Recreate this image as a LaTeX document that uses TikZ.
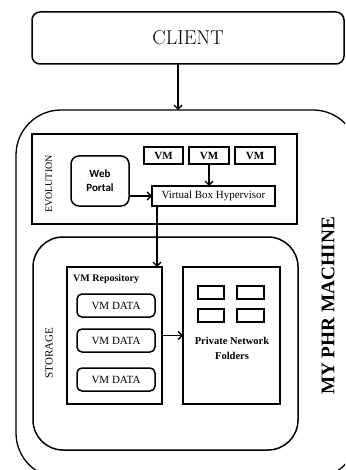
\documentclass[tikz,border=0pt]{standalone}
\usepackage{fontspec}
\newfontfamily\tms{Liberation Serif}
\newfontfamily\calfont{Carlito}
\usetikzlibrary{arrows.meta}
\newcommand\fsz[1]{\fontsize{#1}{\dimexpr #1pt*6/5\relax}\selectfont}
\begin{document}
\begin{tikzpicture}[x=1pt,y=-1pt,
  box/.style={draw,line width=1.5pt,inner sep=0pt,outer sep=0pt},
  rbox/.style={box,rounded corners=#1},
  arr/.style={line width=1.4pt,-{Straight Barb[length=4pt,width=8pt,line width=1.4pt]}},
  lbl/.style={inner sep=0pt,font=\tms\fsz{10}}]
\useasboundingbox (0,0) rectangle (345,470);
\clip (0,0) rectangle (345,470);
% client
\node[rbox=8pt,minimum width=312pt,minimum height=52pt,font=\fsz{20}] (client) at (188,38) {CLIENT};
% outer machine
\node[rbox=45pt,line width=1.3pt,minimum width=342pt,minimum height=368pt] (outer) at (187,294) {};
\draw[arr] ([xshift=-10pt]client.south) -- ([xshift=-10pt]client.south |- outer.north);
\node[lbl,rotate=90,font=\tms\bfseries\fontsize{19.3}{22}\selectfont] (mphr) at (328,306) {MY PHR MACHINE};
% evolution
\node[box,minimum width=265pt,minimum height=90pt] (evo) at (164.5,179) {};
\node[lbl,rotate=90] (evol) at (49,184) {EVOLUTION};
\node[rbox=8pt,minimum width=58pt,minimum height=50pt,align=center,font=\calfont\bfseries\fsz{11}] (web) at (100,181) {Web\\[1pt]Portal};
\node[box,minimum width=39pt,minimum height=17pt,font=\tms\bfseries\fsz{11}] (vma) at (163.5,155.5) {VM};
\node[box,minimum width=40pt,minimum height=17pt,font=\tms\bfseries\fsz{11}] (vmb) at (209,155.5) {VM};
\node[box,minimum width=40pt,minimum height=17pt,font=\tms\bfseries\fsz{11}] (vmc) at (255,155.5) {VM};
\node[box,minimum width=123pt,minimum height=20pt,font=\tms\fsz{11}] (hyp) at (213.5,196) {Virtual Box Hypervisor};
\draw[arr] (vmb.south) -- (vmb.south |- hyp.north);
\draw[arr] (hyp.west -| web.east) -- (hyp.west);
% storage
\node[rbox=30pt,minimum width=265pt,minimum height=213pt] (stor) at (165.5,343.5) {};
\node[lbl,rotate=90,font=\tms\fsz{11}] (storl) at (49,353) {STORAGE};
\node[box,minimum width=95pt,minimum height=137pt] (repo) at (114.5,335.5) {};
\node[lbl,anchor=west,font=\tms\bfseries\fsz{10}] (repot) at (73,279) {VM Repository};
\node[rbox=5pt,minimum width=78pt,minimum height=23pt,font=\tms\fsz{11}] (da) at (116,305.5) {VM DATA};
\node[rbox=5pt,minimum width=78pt,minimum height=23pt,font=\tms\fsz{11}] (db) at (116,340.5) {VM DATA};
\node[rbox=5pt,minimum width=78pt,minimum height=23pt,font=\tms\fsz{11}] (dc) at (116,379.5) {VM DATA};
\node[box,minimum width=97pt,minimum height=137pt] (priv) at (231.5,335.5) {};
\node[box,minimum width=26pt,minimum height=13pt] (fa) at (211,292.5) {};
\node[box,minimum width=27pt,minimum height=13pt] (fb) at (250.5,292.5) {};
\node[box,minimum width=26pt,minimum height=13pt] (fc) at (211,315.5) {};
\node[box,minimum width=27pt,minimum height=13pt] (fd) at (250.5,315.5) {};
\node[lbl,align=center,font=\tms\bfseries\fontsize{10.5}{15}\selectfont] (privt) at (232,348) {Private Network\\Folders};
\draw[arr] ([xshift=-56.5pt]hyp.south) -- ([xshift=-56.5pt]hyp.south |- repo.north);
\draw[arr] (repo.east) -- (priv.west);
\end{tikzpicture}
\end{document}
